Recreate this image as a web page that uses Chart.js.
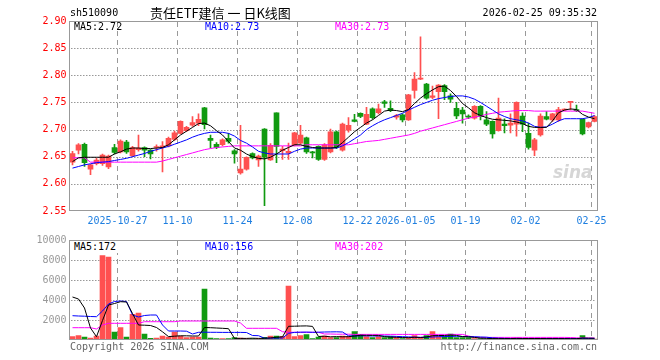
<!DOCTYPE html>
<html>
<head>
<meta charset="utf-8">
<script src="https://cdn.jsdelivr.net/npm/chart.js@4.4.1/dist/chart.umd.min.js"></script>
<style>
  body { margin: 0; background: #fff; }
  #wrap { position: relative; width: 660px; height: 360px; overflow: hidden; font-family: 'DejaVu Sans Mono', monospace; font-size: 10px; }
  canvas { position: absolute; left: 0; }
  #k { top: 0; }
  #v { top: 230px; }
  .t { position: absolute; white-space: nowrap; line-height: 12px; }
</style>
</head>
<body>
<div id="wrap">
  <canvas id="k" width="660" height="230"></canvas>
  <canvas id="v" width="660" height="130"></canvas>

  <div class="t" style="left:70px;top:7px;color:#000">sh510090</div>
  <div class="t" style="left:150px;top:5px;color:#000;font-family:'Noto Sans CJK SC';font-size:13px;line-height:16px">责任ETF建信&nbsp;一&nbsp;日K线图</div>
  <div class="t" style="right:63px;top:7px;color:#000">2026-02-25 09:35:32</div>

  <div class="t" style="left:74px;top:21px;color:#000">MA5:2.72</div>
  <div class="t" style="left:205px;top:21px;color:#0000ff">MA10:2.73</div>
  <div class="t" style="left:335px;top:21px;color:#ff00ff">MA30:2.73</div>
  <div class="t" style="left:553px;top:162px;color:#d6d6d6;font-family:'DejaVu Sans';font-style:italic;font-weight:bold;font-size:17px;line-height:20px">sina</div>

  <div class="t" style="left:72px;top:241px;color:#000;background:#fff;padding:0 2px">MA5:172</div>
  <div class="t" style="left:205px;top:241px;color:#0000ff">MA10:156</div>
  <div class="t" style="left:335px;top:241px;color:#ff00ff">MA30:202</div>

  <div class="t" style="left:70px;top:341px;color:#666">Copyright 2026 SINA.COM</div>
  <div class="t" style="right:63px;top:341px;color:#666">http://finance.sina.com.cn</div>
</div>
<script>
const dates = [
  '10-15','10-16','10-17','10-20','10-21','10-22','10-23','10-24','10-27','10-28','10-29','10-30','10-31',
  '11-03','11-04','11-05','11-06','11-07','11-10','11-11','11-12','11-13','11-14','11-17','11-18','11-19','11-20','11-21',
  '11-24','11-25','11-26','11-27','11-28',
  '12-01','12-02','12-03','12-04','12-05','12-08','12-09','12-10','12-11','12-12','12-15','12-16','12-17','12-18','12-19',
  '12-22','12-23','12-24','12-25','12-26','12-29','12-30','12-31',
  '01-05','01-06','01-07','01-08','01-09','01-12','01-13','01-14','01-15','01-16','01-19','01-20','01-21','01-22','01-23',
  '01-26','01-27','01-28','01-29','01-30',
  '02-02','02-03','02-04','02-05','02-06','02-09','02-10','02-11','02-12','02-13','02-24','02-25'
];
const tickDates = ['10-27','11-10','11-24','12-08','12-22','01-05','01-19','02-02','02-25'];
const tickText  = ['2025-10-27','11-10','11-24','12-08','12-22','2026-01-05','01-19','02-02','02-25'];
const priceTicks = [2.55, 2.60, 2.65, 2.70, 2.75, 2.80, 2.85, 2.90];
const volTicks = [0, 2000, 4000, 6000, 8000, 10000];

const open = [
  2.640,2.662,2.673,2.627,2.637,2.637,2.631,2.667,2.659,2.677,2.652,2.663,2.667,2.662,2.667,2.667,2.670,2.682,2.693,2.698,
  2.708,2.712,2.740,2.684,2.673,2.672,2.684,2.661,2.620,2.627,2.656,2.644,2.701,2.644,2.731,2.661,2.657,2.672,2.675,2.685,
  2.659,2.669,2.645,2.659,2.696,2.662,2.699,2.718,2.730,2.710,2.738,2.731,2.751,2.739,2.723,2.727,2.718,2.772,2.793,2.784,
  2.759,2.770,2.781,2.762,2.739,2.736,2.725,2.721,2.743,2.718,2.715,2.698,2.710,2.708,2.710,2.725,2.693,2.662,2.690,2.724,
  2.718,2.718,2.736,2.750,2.737,2.719,2.705,2.715
];
const high = [
  2.660,2.674,2.675,2.636,2.647,2.655,2.653,2.673,2.681,2.680,2.669,2.690,2.668,2.663,2.672,2.678,2.686,2.697,2.716,2.706,
  2.724,2.729,2.741,2.690,2.676,2.683,2.693,2.663,2.708,2.650,2.657,2.653,2.702,2.674,2.731,2.669,2.675,2.695,2.708,2.686,
  2.660,2.670,2.674,2.701,2.697,2.712,2.722,2.728,2.731,2.741,2.740,2.747,2.754,2.753,2.728,2.729,2.765,2.805,2.871,2.785,
  2.780,2.783,2.783,2.766,2.750,2.741,2.727,2.744,2.744,2.733,2.716,2.758,2.720,2.729,2.751,2.731,2.712,2.684,2.729,2.733,
  2.730,2.741,2.738,2.751,2.745,2.720,2.714,2.726
];
const low = [
  2.635,2.655,2.632,2.617,2.635,2.634,2.628,2.655,2.657,2.656,2.650,2.660,2.650,2.646,2.660,2.622,2.668,2.680,2.692,2.696,
  2.706,2.707,2.701,2.666,2.665,2.670,2.675,2.638,2.618,2.625,2.646,2.632,2.560,2.643,2.639,2.645,2.645,2.670,2.673,2.656,
  2.648,2.643,2.643,2.657,2.665,2.660,2.695,2.714,2.722,2.709,2.719,2.729,2.741,2.733,2.719,2.714,2.717,2.758,2.792,2.756,
  2.757,2.720,2.755,2.750,2.720,2.712,2.720,2.719,2.718,2.707,2.684,2.697,2.694,2.694,2.688,2.696,2.664,2.652,2.688,2.718,
  2.715,2.715,2.735,2.736,2.733,2.690,2.703,2.714
];
const close = [
  2.656,2.672,2.639,2.635,2.644,2.653,2.651,2.658,2.679,2.659,2.667,2.666,2.662,2.655,2.668,2.670,2.684,2.694,2.715,2.704,
  2.713,2.719,2.709,2.680,2.667,2.681,2.678,2.655,2.627,2.649,2.648,2.651,2.649,2.671,2.669,2.664,2.660,2.694,2.690,2.659,
  2.657,2.645,2.672,2.696,2.667,2.710,2.708,2.715,2.724,2.728,2.722,2.738,2.748,2.735,2.726,2.718,2.764,2.793,2.795,2.758,
  2.762,2.782,2.770,2.756,2.725,2.729,2.723,2.743,2.724,2.710,2.692,2.721,2.707,2.712,2.750,2.710,2.667,2.681,2.725,2.719,
  2.729,2.737,2.737,2.751,2.735,2.692,2.713,2.724
];
const ma5 = [
  2.641,2.648,2.649,2.649,2.649,2.649,2.649,2.655,2.659,2.664,2.666,2.666,2.665,2.665,2.666,2.667,2.672,2.681,2.690,2.697,
  2.704,2.711,2.712,2.707,2.698,2.690,2.678,2.666,2.662,2.655,2.650,2.647,2.646,2.649,2.655,2.662,2.667,2.672,2.672,2.669,
  2.667,2.666,2.666,2.666,2.667,2.676,2.686,2.696,2.704,2.712,2.718,2.726,2.734,2.736,2.735,2.733,2.737,2.748,2.758,2.766,
  2.773,2.779,2.780,2.772,2.761,2.748,2.740,2.731,2.726,2.722,2.719,2.718,2.717,2.716,2.714,2.711,2.706,2.704,2.704,2.704,
  2.716,2.731,2.736,2.738,2.737,2.728,2.723,2.720
];
const ma10 = [
  2.629,2.632,2.635,2.637,2.639,2.640,2.641,2.643,2.645,2.647,2.650,2.653,2.656,2.660,2.663,2.666,2.669,2.673,2.677,2.681,
  2.686,2.690,2.693,2.695,2.695,2.695,2.693,2.688,2.680,2.675,2.668,2.660,2.657,2.655,2.655,2.655,2.655,2.660,2.664,2.666,
  2.666,2.666,2.666,2.666,2.666,2.670,2.676,2.683,2.690,2.700,2.707,2.713,2.718,2.722,2.726,2.730,2.736,2.741,2.746,2.750,
  2.754,2.757,2.759,2.761,2.762,2.762,2.760,2.756,2.750,2.743,2.736,2.729,2.724,2.720,2.718,2.716,2.712,2.706,2.704,2.705,
  2.710,2.716,2.720,2.720,2.720,2.720,2.722,2.726
];
const ma30 = [
  2.648,2.648,2.648,2.640,2.640,2.640,2.640,2.640,2.640,2.640,2.640,2.640,2.640,2.640,2.640,2.642,2.645,2.648,2.651,2.654,
  2.657,2.660,2.663,2.665,2.667,2.668,2.669,2.670,2.670,2.670,2.670,2.670,2.670,2.670,2.670,2.670,2.670,2.670,2.670,2.672,
  2.672,2.672,2.672,2.672,2.672,2.672,2.672,2.674,2.676,2.678,2.679,2.680,2.682,2.684,2.686,2.688,2.690,2.693,2.697,2.700,
  2.703,2.706,2.709,2.712,2.715,2.718,2.721,2.723,2.725,2.728,2.730,2.732,2.733,2.734,2.735,2.735,2.735,2.734,2.734,2.734,
  2.734,2.734,2.734,2.734,2.734,2.734,2.732,2.730
];

const volume = [
  330,430,300,200,400,8430,8300,780,1230,300,2570,2700,600,170,200,400,300,800,400,230,
  300,300,5100,200,130,130,130,230,200,130,130,130,270,400,400,370,5400,330,430,530,
  130,300,400,230,230,400,330,830,570,330,230,330,230,330,230,130,230,430,230,430,
  830,330,330,600,230,230,230,130,130,100,200,150,130,130,200,130,150,130,150,130,
  150,130,130,100,130,430,110,90
];
const volMa5 = [
  4300,4100,3200,1200,330,1950,3500,3650,3830,3800,2650,1500,1480,1450,1250,820,340,380,420,420,
  400,400,1250,1230,1200,1170,1130,160,160,160,180,160,170,210,270,320,1370,1380,1400,1410,
  1360,350,380,320,340,320,330,400,470,470,460,460,340,290,270,250,230,270,250,300,
  430,450,450,500,460,340,320,260,190,160,140,140,140,140,160,150,150,150,150,140,
  140,140,140,130,130,190,180,172
];
const volMa10 = [
  2430,2400,2380,2350,2330,2900,3600,3850,3900,3850,2500,2300,2450,2500,2500,1500,900,900,900,880,
  600,770,780,770,770,760,760,760,760,750,450,430,180,180,190,200,670,760,780,790,
  770,780,800,810,820,800,420,400,420,410,400,400,400,380,360,330,310,290,270,280,
  300,330,340,370,370,350,340,330,300,280,210,180,160,150,150,150,150,150,150,150,
  150,145,145,140,140,165,160,156
];
const volMa30 = [
  1230,1230,1230,1230,1100,1500,1670,1670,1670,1670,1670,1670,1830,1830,1830,1830,1830,1830,1900,1900,
  1900,1900,1900,1900,1900,1900,1900,1900,1700,1170,1170,1170,1170,1170,1170,830,770,770,770,770,
  770,770,600,600,580,580,580,560,560,560,560,560,560,560,560,560,560,560,560,560,
  560,560,560,560,560,560,400,270,260,260,260,260,260,260,260,260,260,260,260,260,
  260,260,260,250,220,210,205,202
];

const tickMap = {};
tickDates.forEach((d, i) => tickMap[d] = tickText[i]);

const UP = '#ff5050', DOWN = '#109a10';
const candleColor = close.map((c, i) => c >= open[i] ? UP : DOWN);
const bodies = open.map((o, i) => [Math.min(o, close[i]), Math.max(o, close[i])]);
const wicks  = low.map((l, i) => [l, high[i]]);

Chart.defaults.font.family = "'DejaVu Sans Mono', monospace";
Chart.defaults.font.size = 10;
Chart.defaults.animation = false;

// dotted value lines and dashed date lines under the marks, grey frame on top
const panel = {
  id: 'panel',
  beforeDatasetsDraw(chart) {
    const { ctx, chartArea: a, scales: { x, y } } = chart;
    ctx.save();
    ctx.strokeStyle = '#999999';
    ctx.lineWidth = 1;
    ctx.beginPath();
    y.ticks.forEach(t => {
      const py = Math.round(y.getPixelForValue(t.value)) + 0.5;
      if (py <= a.top + 2 || py >= a.bottom - 2) return;
      for (let px = Math.ceil(a.left) + 1; px < a.right - 2; px += 3) {
        ctx.moveTo(px, py);
        ctx.lineTo(px + 1.5, py);
      }
    });
    const half = (x.getPixelForValue(1) - x.getPixelForValue(0)) / 2;
    dates.forEach((d, i) => {
      if (!tickMap[d]) return;
      const px = Math.floor(x.getPixelForValue(i) - half) + 0.5;
      for (let py = Math.ceil(a.top) + 1; py < a.bottom - 1; py += 9) {
        ctx.moveTo(px, py);
        ctx.lineTo(px, Math.min(py + 5, a.bottom - 1));
      }
    });
    ctx.stroke();
    ctx.restore();
  },
  afterDraw(chart) {
    const { ctx, chartArea: a } = chart;
    ctx.save();
    ctx.strokeStyle = '#999';
    ctx.lineWidth = 1;
    ctx.strokeRect(a.left, a.top + 0.5, a.right - a.left, a.bottom - a.top - 1);
    ctx.restore();
  }
};

function maLine(data, color) {
  return { type: 'line', data, borderColor: color, borderWidth: 1, pointRadius: 0, tension: 0, fill: false, order: 0 };
}

new Chart(document.getElementById('k'), {
  type: 'bar',
  data: {
    labels: dates,
    datasets: [
      maLine(ma5, '#000000'),
      maLine(ma10, '#0000ff'),
      maLine(ma30, '#ff00ff'),
      { data: bodies, backgroundColor: candleColor, barThickness: 5, minBarLength: 1, grouped: false, order: 1 },
      { data: wicks,  backgroundColor: candleColor, barThickness: 1, grouped: false, order: 2 },
    ]
  },
  options: {
    responsive: false,
    layout: { padding: { top: 21, right: 62.5, left: 0, bottom: 0 } },
    plugins: { legend: { display: false }, tooltip: { enabled: false } },
    scales: {
      x: {
        offset: true,
        grid: { display: false, drawTicks: false },
        border: { display: false },
        ticks: {
          autoSkip: false, maxRotation: 0, minRotation: 0, padding: 4, labelOffset: -3,
          color: '#1f7fe0',
          callback: (v, i) => tickMap[dates[i]] || ''
        },
        afterFit: s => { s.height = 19; }
      },
      y: {
        min: 2.55, max: 2.90,
        afterBuildTicks: s => { s.ticks = priceTicks.map(value => ({ value })); },
        ticks: { color: '#ff0000', padding: 3, callback: v => v.toFixed(2) },
        grid: { display: false, drawTicks: false },
        border: { display: false },
        afterFit: s => { s.width = 69.5; }
      }
    }
  },
  plugins: [panel]
});

new Chart(document.getElementById('v'), {
  type: 'bar',
  data: {
    labels: dates,
    datasets: [
      maLine(volMa5, '#000000'),
      maLine(volMa10, '#0000ff'),
      maLine(volMa30, '#ff00ff'),
      { data: volume, backgroundColor: candleColor, barThickness: 5, grouped: false, order: 1 },
    ]
  },
  options: {
    responsive: false,
    layout: { padding: { top: 10, right: 62.5, left: 0, bottom: 0 } },
    plugins: { legend: { display: false }, tooltip: { enabled: false } },
    scales: {
      x: {
        offset: true,
        grid: { display: false, drawTicks: false },
        border: { display: false },
        ticks: { display: false, autoSkip: false },
        afterFit: s => { s.height = 20; }
      },
      y: {
        min: 0, max: 10000,
        afterBuildTicks: s => { s.ticks = volTicks.map(value => ({ value })); },
        ticks: { color: '#999', padding: 3, callback: v => v === 0 ? '' : v },
        grid: { display: false, drawTicks: false },
        border: { display: false },
        afterFit: s => { s.width = 69.5; }
      }
    }
  },
  plugins: [panel]
});
</script>
</body>
</html>
